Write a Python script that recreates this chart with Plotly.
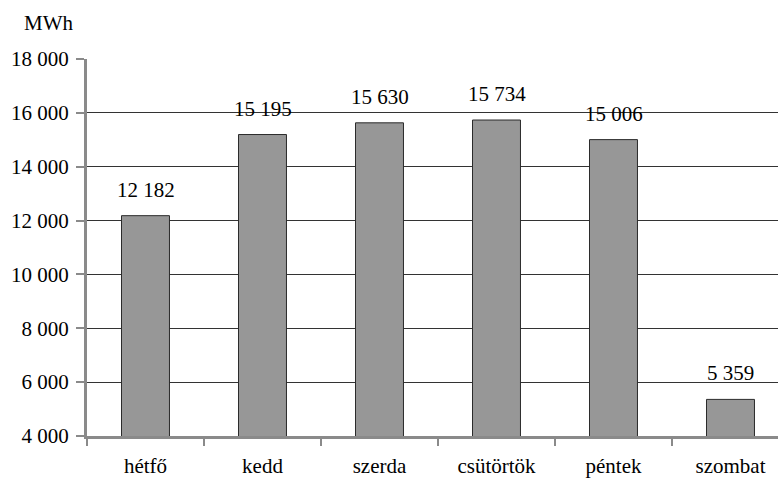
import plotly.graph_objects as go

# Daily energy consumption by weekday (MWh)
days = ["hétfő", "kedd", "szerda", "csütörtök", "péntek", "szombat"]
energy_mwh = [12182, 15195, 15630, 15734, 15006, 5359]
value_labels = ["12 182", "15 195", "15 630", "15 734", "15 006", "5 359"]

y_tickvals = [4000, 6000, 8000, 10000, 12000, 14000, 16000, 18000]
y_ticktext = ["4 000", "6 000", "8 000", "10 000", "12 000", "14 000", "16 000", "18 000"]

FONT = "'Times New Roman', 'Liberation Serif', 'DejaVu Serif', serif"
AXIS_GREY = "#8a8a8a"

fig = go.Figure(
    go.Bar(
        x=days,
        y=energy_mwh,
        width=0.41,
        marker=dict(color="#979797", line=dict(color="#2b2b2b", width=1)),
        hoverinfo="x+y",
    )
)

# value labels above each bar
for d, v, t in zip(days, energy_mwh, value_labels):
    fig.add_annotation(
        x=d, y=v, text=t, showarrow=False,
        yanchor="bottom", yshift=12,
        font=dict(family=FONT, size=21, color="#000"),
    )

# unit label above the y axis
fig.add_annotation(
    xref="paper", yref="paper", x=-0.055, y=1.0, yshift=36,
    text="MWh", showarrow=False, xanchor="center", yanchor="middle",
    font=dict(family=FONT, size=21, color="#000"),
)

fig.update_layout(
    width=778, height=480,
    margin=dict(l=87, r=0, t=59, b=44),
    paper_bgcolor="white", plot_bgcolor="white",
    showlegend=False,
    font=dict(family=FONT, size=21, color="#000"),
    xaxis=dict(
        type="category",
        range=[-0.5, 5.406],
        tickson="boundaries",
        ticks="outside", ticklen=7, tickwidth=2, tickcolor=AXIS_GREY,
        showline=True, linecolor=AXIS_GREY, linewidth=3,
        showgrid=False, zeroline=False,
        ticklabelstandoff=9,
        tickfont=dict(family=FONT, size=21, color="#000"),
    ),
    yaxis=dict(
        range=[4000, 18000],
        tickvals=y_tickvals, ticktext=y_ticktext,
        ticks="outside", ticklen=8, tickwidth=2, tickcolor=AXIS_GREY,
        showline=True, linecolor=AXIS_GREY, linewidth=3,
        showgrid=True, gridcolor="#333333", gridwidth=1,
        zeroline=False,
        ticklabelstandoff=3,
        tickfont=dict(family=FONT, size=21, color="#000"),
    ),
)

fig.write_html("out.html")
